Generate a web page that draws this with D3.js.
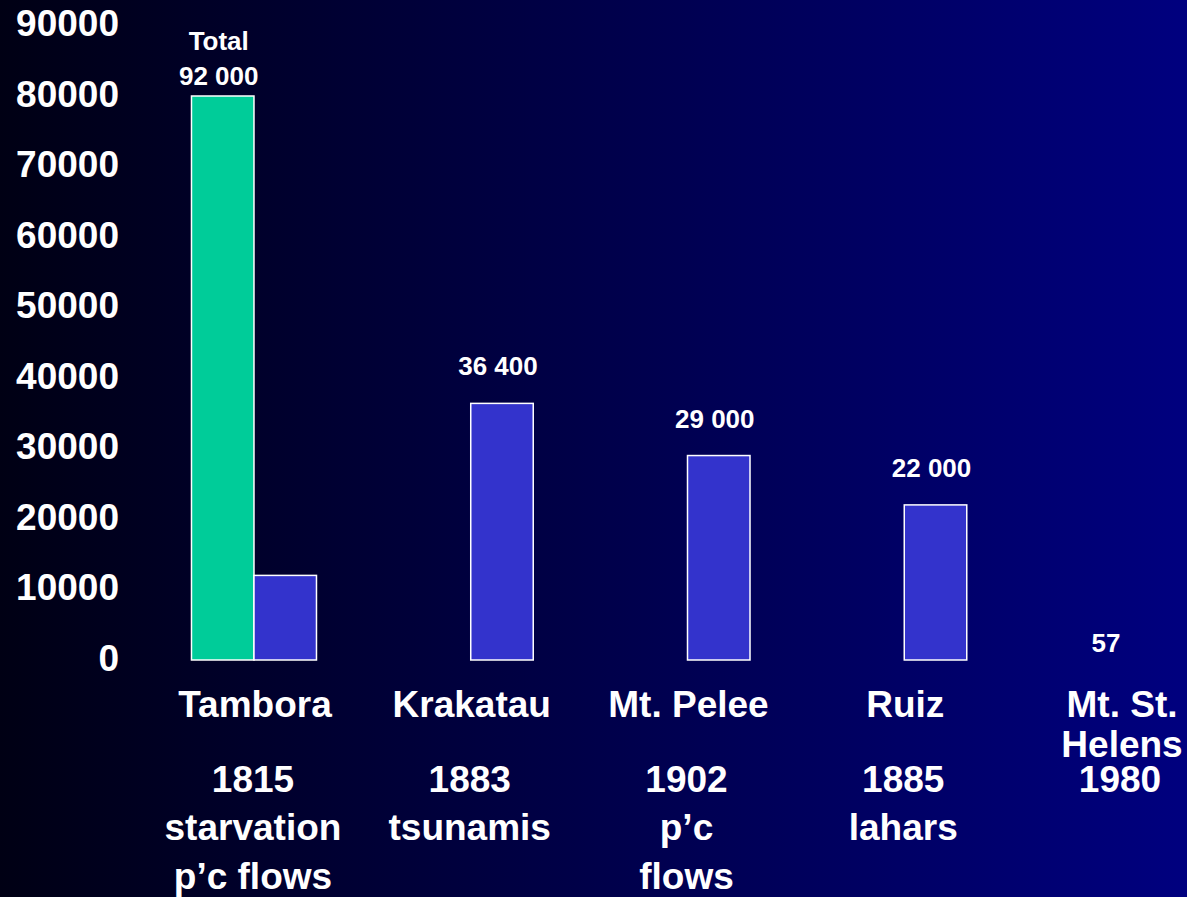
<!DOCTYPE html>
<html>
<head>
<meta charset="utf-8">
<script src="https://cdn.jsdelivr.net/npm/d3@7"></script>
<style>
  body { margin: 0; padding: 0; overflow: hidden; }
  text { font-family: "Liberation Sans", Arial, sans-serif; font-weight: bold; fill: #ffffff; }
</style>
</head>
<body>
<div id="plot"></div>
<script>
// data
var volcanoes = ["Tambora", "Krakatau", "Mt. Pelee", "Ruiz", "Mt. St. Helens"];
var nameLines = [["Tambora"], ["Krakatau"], ["Mt. Pelee"], ["Ruiz"], ["Mt. St.", "Helens"]];
var years = ["1815", "1883", "1902", "1885", "1980"];
var causes = [["starvation", "p\u2019c flows"], ["tsunamis"], ["p\u2019c", "flows"], ["lahars"], []];
var starvation = [80000, 0, 0, 0, 0];
var deaths = [12000, 36400, 29000, 22000, 57];
var valueLabels = ["92 000", "36 400", "29 000", "22 000", "57"];
var yTicks = [0, 10000, 20000, 30000, 40000, 50000, 60000, 70000, 80000, 90000];

var svgwidth = 1187;
var svgheight = 897;
var svg = d3.select("#plot").append("svg").attr("width", svgwidth).attr("height", svgheight);

var defs = svg.append("defs");
var grad = defs.append("linearGradient").attr("id", "bg").attr("x1", "0%").attr("x2", "100%").attr("y1", "0%").attr("y2", "0%");
grad.append("stop").attr("offset", "0%").attr("stop-color", "#000014");
grad.append("stop").attr("offset", "100%").attr("stop-color", "#00007f");
svg.append("rect").attr("width", svgwidth).attr("height", svgheight).attr("fill", "url(#bg)");

var xScale = d3.scaleBand().domain(volcanoes).range([145.6, 1229.4]);
var subScale = d3.scaleBand().domain(["starvation", "deaths"]).range([0, xScale.bandwidth()]).paddingOuter(0.734);
var yScale = d3.scaleLinear().domain([0, 90000]).range([660, 25.5]);

// y axis, labels only
var yAxis = d3.axisLeft(yScale).tickValues(yTicks).tickFormat(d3.format("d")).tickSize(0).tickPadding(0);
var yG = svg.append("g").attr("transform", "translate(119,0)").call(yAxis);
yG.select(".domain").remove();
yG.selectAll("text").attr("fill", "#ffffff").style("font-size", "37px").attr("dy", "0.33em")
  .attr("y", -2).style("font-family", "'Liberation Sans', Arial, sans-serif").style("font-weight", "bold");

var rows = volcanoes.map(function(v, i) {
  return { name: v, starvation: starvation[i], deaths: deaths[i] };
});

var groups = svg.selectAll(".grp").data(rows).enter().append("g")
  .attr("class", "grp")
  .attr("transform", function(d) { return "translate(" + xScale(d.name) + ",0)"; });

groups.filter(function(d) { return d.starvation > 0; }).append("rect")
  .attr("x", subScale("starvation"))
  .attr("width", subScale.bandwidth())
  .attr("y", function(d) { return yScale(d.starvation); })
  .attr("height", function(d) { return yScale(0) - yScale(d.starvation); })
  .attr("fill", "#00cc99").attr("stroke", "#ffffff").attr("stroke-width", 1.5);

groups.filter(function(d) { return d.deaths > 1000; }).append("rect")
  .attr("x", subScale("deaths"))
  .attr("width", subScale.bandwidth())
  .attr("y", function(d) { return yScale(d.deaths); })
  .attr("height", function(d) { return yScale(0) - yScale(d.deaths); })
  .attr("fill", "#3333cc").attr("stroke", "#ffffff").attr("stroke-width", 1.5);

var centre = function(v) { return xScale(v) + xScale.bandwidth() / 2; };

// value labels above bars
svg.selectAll(".val").data(rows).enter().append("text")
  .attr("class", "val")
  .attr("text-anchor", "middle")
  .style("font-size", "26px")
  .attr("x", function(d, i) {
    if (d.deaths < 1000) return centre(d.name) - 15;
    var sub = i == 0 ? "starvation" : "deaths";
    return xScale(d.name) + subScale(sub) + subScale.bandwidth() / 2 - 4;
  })
  .attr("y", function(d, i) {
    if (i == 0) return yScale(d.starvation) - 11;
    if (d.deaths < 1000) return yScale(d.deaths) - 8;
    return yScale(d.deaths) - 28;
  })
  .text(function(d, i) { return valueLabels[i]; });

svg.append("text").attr("text-anchor", "middle").style("font-size", "26px")
  .attr("x", xScale("Tambora") + subScale("starvation") + subScale.bandwidth() / 2 - 4)
  .attr("y", yScale(starvation[0]) - 46)
  .text("Total");

// category labels below the axis
volcanoes.forEach(function(v, i) {
  var g = svg.append("g").attr("text-anchor", "middle").style("font-size", "37px");
  nameLines[i].forEach(function(line, j) {
    g.append("text").attr("x", centre(v) + 1).attr("y", 717 + j * 40).text(line);
  });
  g.append("text").attr("x", centre(v) - 1).attr("y", 792).text(years[i]);
  causes[i].forEach(function(line, j) {
    g.append("text").attr("x", centre(v) - 1).attr("y", 840 + j * 48.5).text(line);
  });
});
</script>
</body>
</html>
